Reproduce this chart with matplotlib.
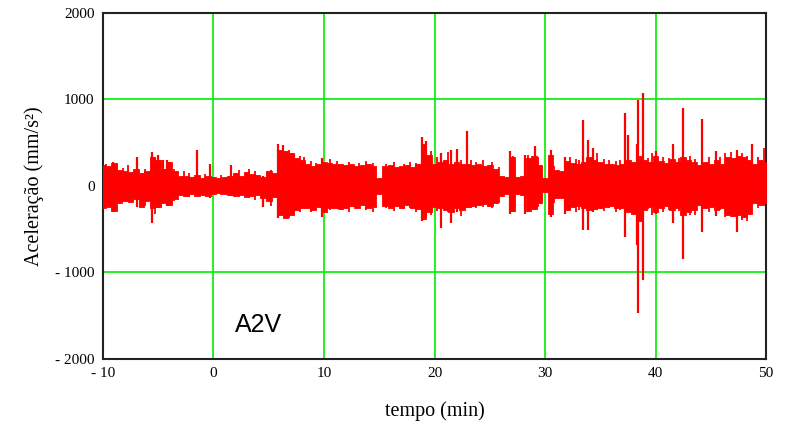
import matplotlib
matplotlib.use("Agg")
import matplotlib.pyplot as plt
import numpy as np

# envelope of the body of the signal, sampled every 0.5 min
times = np.arange(-10, 50.01, 0.5)
upper = [240, 230, 270, 190, 170, 160, 200, 150, 170, 330,
         300, 200, 280, 170, 110, 120, 100, 130, 90, 110,
         100, 90, 100, 110, 150, 120, 160, 140, 130, 100,
         170, 150, 420, 400, 380, 320, 300, 260, 230, 250,
         280, 270, 250, 260, 240, 250, 230, 240, 250, 230,
         90, 230, 240, 220, 230, 240, 220, 250, 480, 360,
         260, 280, 300, 260, 280, 250, 260, 240, 250, 230,
         240, 200, 120, 100, 330, 100, 110, 320, 350, 240,
         90, 360, 180, 170, 290, 270, 260, 280, 330, 300,
         280, 260, 250, 240, 260, 300, 280, 350, 300, 280,
         350, 290, 270, 310, 280, 330, 300, 280, 240, 280,
         250, 300, 260, 340, 320, 350, 330, 300, 260, 300,
         280]
lower = [-250, -240, -290, -200, -170, -190, -150, -240, -170, -260,
         -240, -200, -220, -150, -100, -110, -90, -110, -100, -120,
         -90, -80, -90, -100, -120, -100, -130, -110, -100, -140,
         -170, -130, -340, -370, -330, -280, -260, -250, -280, -240,
         -300, -260, -250, -270, -250, -230, -260, -220, -260, -240,
         -90, -230, -260, -230, -250, -220, -250, -270, -380, -300,
         -240, -260, -280, -300, -260, -280, -240, -230, -220, -210,
         -230, -200, -110, -90, -290, -90, -100, -290, -270, -200,
         -70, -320, -140, -140, -280, -240, -230, -260, -280, -270,
         -250, -240, -230, -260, -250, -300, -320, -400, -280, -240,
         -300, -260, -230, -280, -260, -340, -300, -280, -220, -260,
         -240, -280, -260, -330, -350, -330, -360, -320, -200, -220,
         -200]

# isolated large spikes: time (min), peak, trough (mm/s^2)
spike_t = [-9.1, -6.9, -5.6, -5.0, -4.6, -4.2, -1.5, -0.3, 1.6, 4.5,
           5.8, 6.3, 7.3, 9.8, 18.9, 19.2, 20.6, 21.5, 22.0, 22.9,
           26.8, 28.2, 29.1, 30.5, 31.8, 33.4, 33.9, 34.3, 37.2, 37.5,
           38.3, 38.4, 38.9, 40.0, 41.6, 42.5, 44.2, 45.5, 47.4, 48.7]
spike_hi = [280, 340, 390, 360, 300, 300, 420, 260, 240, 120,
            490, 470, 370, 320, 570, 520, 380, 420, 430, 630,
            400, 360, 460, 420, 340, 760, 530, 440, 840, 590,
            480, 990, 1070, 400, 490, 900, 780, 400, 420, 490]
spike_lo = [-300, -240, -430, -260, -200, -230, -100, -140, -120, -240,
            -370, -340, -300, -360, -410, -360, -490, -430, -300, -250,
            -320, -320, -280, -360, -320, -510, -510, -300, -590, -300,
            -680, -1470, -1090, -320, -430, -840, -530, -350, -530, -220]

# smaller excursions that make the envelope ragged
minor_t = [-9.7, -8.8, -8.2, -7.7, -6.2, -5.3, -4.0, -3.6, -2.7, -2.2,
           -0.8, 0.7, 2.3, 3.2, 3.8, 5.2, 6.8, 7.8, 8.2, 8.8,
           9.3, 10.5, 11.2, 12.3, 13.2, 13.8, 14.4, 15.6, 16.3, 17.2,
           17.8, 18.3, 19.7, 20.2, 21.2, 22.4, 23.3, 23.8, 24.4, 25.2,
           25.8, 27.1, 28.5, 29.4, 30.8, 32.3, 32.8, 33.1, 34.7, 35.3,
           35.8, 36.4, 36.8, 39.3, 39.7, 40.7, 41.2, 42.1, 43.1, 43.6,
           44.8, 45.8, 46.3, 46.8, 47.8, 48.3, 49.3, 49.8]
minor_hi = [260, 220, 210, 240, 200, 330, 280, 200, 170, 150,
            140, 130, 180, 200, 170, 190, 420, 350, 330, 290,
            270, 310, 290, 280, 270, 290, 270, 260, 280, 260,
            280, 270, 400, 330, 390, 300, 300, 280, 300, 280,
            220, 350, 360, 340, 230, 340, 310, 300, 380, 310,
            300, 290, 300, 320, 380, 330, 320, 320, 350, 310,
            330, 330, 380, 390, 380, 350, 340, 440]
minor_lo = [-230, -250, -180, -150, -230, -320, -180, -170, -120, -130,
            -110, -100, -130, -140, -160, -230, -370, -300, -270, -300,
            -260, -280, -270, -300, -260, -280, -300, -250, -290, -270,
            -260, -300, -330, -290, -300, -350, -260, -250, -240, -260,
            -200, -300, -300, -240, -200, -280, -300, -280, -280, -290,
            -260, -300, -280, -270, -330, -300, -280, -290, -340, -330,
            -300, -280, -360, -340, -390, -410, -250, -230]

xticks = [-10, 0, 10, 20, 30, 40, 50]
yticks = [-2000, -1000, 0, 1000, 2000]

fig = plt.figure(figsize=(7.88, 4.23), dpi=100)
ax = fig.add_axes([0.1307, 0.1513, 0.8414, 0.818])

red = "#ff0000"
ax.fill_between(times, lower, upper, step="mid", color=red, lw=0.6,
                edgecolor=red, zorder=3)
ax.vlines(minor_t, minor_lo, minor_hi, color=red, lw=1.3, zorder=3)
ax.vlines(spike_t, spike_lo, spike_hi, color=red, lw=1.6, zorder=3)

ax.set_xlim(-10, 50)
ax.set_ylim(-2000, 2000)
ax.set_xticks(xticks)
ax.set_yticks(yticks)
ax.set_xticklabels([str(v).replace("-", "- ") for v in xticks])
ax.set_yticklabels([str(v).replace("-", "- ") for v in yticks])
ax.grid(True, color="#00ee00", lw=1.2, zorder=1)
ax.set_axisbelow(True)
ax.tick_params(axis="x", length=0, labelsize=11, pad=6)
ax.tick_params(axis="y", length=0, labelsize=11, pad=6)
for lab in ax.get_xticklabels() + ax.get_yticklabels():
    lab.set_family("Liberation Serif")
for s in ax.spines.values():
    s.set_linewidth(1.5)
    s.set_color("#222222")

ax.set_xlabel("tempo (min)", family="Liberation Serif", fontsize=14.5, labelpad=15)
ax.set_ylabel("Aceleração (mm/s²)", family="Liberation Serif", fontsize=14.5, labelpad=8)
ax.text(1.9, -1607, "A2V", family="Liberation Sans", fontsize=18, va="center", ha="left")

fig.savefig("out.png", dpi=100)
